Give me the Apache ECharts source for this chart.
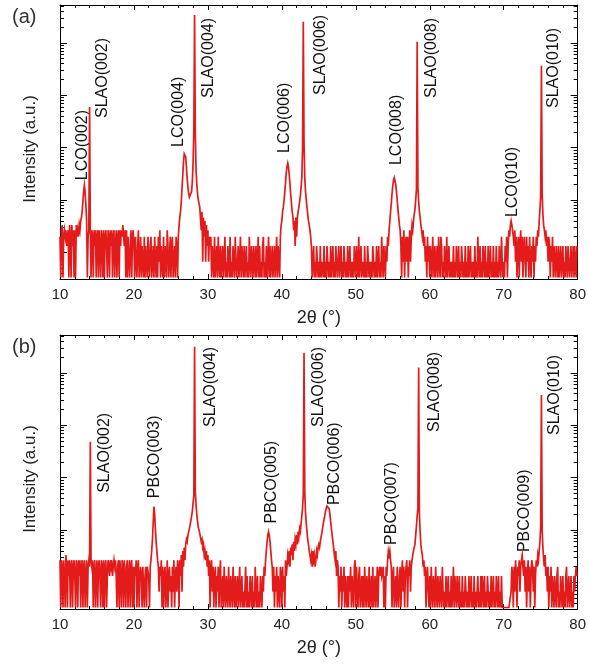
<!DOCTYPE html>
<html><head><meta charset="utf-8">
<script src="https://cdn.jsdelivr.net/npm/echarts@6/dist/echarts.min.js"></script>
<style>html,body{margin:0;padding:0;background:#fff}#c{width:589px;height:667px}</style>
</head><body><div id="c"></div>
<script>
// 2theta sampling grid (degrees)
const X_START = 10, X_STEP = 0.1;

// Panel (a): LCO film, counts per 0.1 deg step, one array per 10 deg
const a10 = [3,0,4,5,0,3,4,3,4,2, 3,4,0,5,3,0,5,2,4,0, 4,0,5,3,4,3,5,4,6,7, 9,14,22,29,21,12,6,0,3,4, 895,4,0,4,3,0,4,2,4,0,
             3,4,0,4,2,0,4,3,0,4, 0,3,4,2,0,4,3,0,4,2, 4,0,3,4,0,2,4,0,3,4, 0,4,2,4,3,5,3,2,4,0, 4,0,3,3,0,2,4,0,3,4];
const a20 = [2,0,3,1,0,2,4,0,1,3, 0,2,1,0,3,0,2,1,0,3, 1,0,2,3,0,1,2,0,3,1, 0,2,0,3,1,4,0,2,1,0, 3,0,2,1,0,4,2,0,1,3,
             0,2,3,0,1,2,0,3,2,0, 3,5,7,9,14,25,45,80,115,124, 100,62,38,26,20,17,16,18,22,35, 80,350,51000,260,55,30,20,15,13,11, 11,4,9,1,7,3,6,1,5,2];
const a30 = [4,1,3,2,3,0,2,1,0,3, 0,1,2,0,3,1,0,2,0,1, 2,0,1,3,0,1,0,2,1,0, 3,0,1,0,2,1,0,3,1,0, 1,2,0,1,3,0,2,1,0,2,
             0,1,2,0,1,0,3,1,0,2, 1,0,2,1,0,2,0,1,3,0, 2,0,1,0,2,3,0,1,0,2, 0,1,3,0,2,0,1,2,0,1, 2,0,1,3,0,2,1,0,3,5];
const a40 = [6,9,11,15,22,33,50,66,76,64, 46,30,19,13,9,7,4,6,2,7, 3,7,9,11,14,18,26,40,140,38000, 180,40,22,15,11,8,6,5,4,3, 2,0,1,2,0,1,0,2,1,0,
             1,0,2,0,1,1,0,2,0,1, 0,2,1,0,1,0,2,0,1,2, 0,1,0,2,1,0,1,2,0,1, 2,0,1,0,2,1,0,1,0,2, 0,1,2,0,1,0,1,0,2,1];
const a50 = [0,2,1,0,3,0,1,2,0,1, 1,0,2,0,1,0,2,1,0,1, 0,1,0,2,1,0,1,0,2,0, 1,2,0,1,0,3,1,0,2,1, 0,2,1,3,2,4,6,9,13,20,
             28,36,40,38,30,22,15,10,7,5, 4,2,0,3,1,4,0,2,3,1, 3,0,2,4,1,3,5,4,6,8, 10,15,24,15800,26,14,9,7,5,4, 3,4,2,3,1,2,0,3,1,2];
const a60 = [0,2,1,0,3,1,0,2,0,1, 2,0,3,1,0,3,2,0,1,0, 2,1,0,3,0,1,2,0,1,0, 1,0,2,0,1,0,2,1,0,2, 0,1,0,2,1,0,1,0,2,0,
             1,0,2,0,1,2,0,1,0,1, 0,2,0,1,0,3,1,0,2,0, 1,0,2,1,0,2,0,1,0,2, 0,1,2,0,1,0,2,0,1,0, 2,0,1,0,2,1,0,3,1,0];
const a70 = [1,0,2,1,3,0,2,4,3,5, 6,5,4,3,2,4,1,3,0,2, 3,0,2,4,1,3,0,2,3,1, 0,3,1,2,0,3,1,0,2,1, 3,0,2,1,3,2,4,3,6,10,
             18,5500,20,8,5,4,3,4,2,3, 1,3,2,0,2,1,3,0,2,1, 0,2,1,0,2,0,1,2,0,1, 2,0,1,0,2,1,0,2,1,0, 1,2,0,1,2,0,2,1,0,2];

// Panel (b): PBCO film
const b10 = [4,0,4,3,0,4,2,0,5,3, 0,4,2,4,0,3,4,0,3,4, 2,0,4,3,0,4,2,4,0,3, 4,0,3,4,0,2,4,0,3,4, 3,730,4,3,4,0,3,4,0,2,
             4,0,3,4,2,0,4,3,0,4, 0,3,4,0,2,4,3,2,4,3, 4,2,3,4,3,4,2,0,3,4, 0,4,2,0,4,3,0,4,2,0, 3,4,0,2,4,0,3,4,0,3];
const b20 = [0,3,2,4,0,3,4,0,2,3, 2,0,3,3,0,2,3,0,3,3, 2,0,3,4,6,10,20,42,30,16, 9,6,4,3,1,3,2,4,0,3, 0,2,3,0,1,4,0,2,3,1,
             2,0,3,1,4,0,2,3,1,4, 3,0,4,2,5,1,6,3,7,4, 8,10,9,12,14,16,19,23,28,35, 50,68,47500,80,45,30,22,17,15,13, 12,9,10,7,8,5,6,4,6,3];
const b30 = [5,2,4,0,3,4,1,3,0,2, 3,0,2,1,3,0,2,4,0,1, 2,0,3,1,0,2,1,0,3,1, 0,2,1,0,3,1,0,2,0,1, 2,0,1,3,0,1,2,0,1,0,
             1,3,0,2,0,1,0,2,1,0, 2,0,1,0,3,1,0,2,0,1, 0,2,1,0,2,1,3,2,4,6, 9,12,14,12,9,6,4,3,1,3, 0,2,1,3,0,2,1,0,3,2];
const b40 = [0,3,1,2,0,4,2,3,5,4, 6,3,7,5,8,4,9,6,10,8, 12,8,14,11,16,14,20,28,40,70, 36500,80,32,20,14,10,8,6,5,4, 5,3,6,4,5,3,4,6,5,7,
             8,7,9,11,13,16,20,24,28,34, 39,43,45,44,38,30,22,16,12,9, 7,5,4,6,2,4,3,0,2,1, 3,0,2,1,3,0,2,1,0,2, 0,2,1,3,0,2,1,0,3,4];
const b50 = [0,3,1,0,2,3,0,1,2,0, 2,0,3,1,0,2,1,0,3,0, 1,2,0,3,0,1,2,0,1,3, 0,2,3,2,3,2,2,3,0,2, 0,3,2,4,6,5,6,4,3,0,
             2,3,0,1,2,0,3,1,0,2, 3,0,2,4,1,3,0,2,3,4, 0,3,2,4,1,3,4,5,6,7, 8,12,18,28,40,19000,30,14,8,6, 5,3,4,2,3,0,2,3,1,0];
const b60 = [2,0,3,1,0,2,1,0,3,1, 0,2,1,0,2,1,0,3,1,0, 1,0,2,0,1,2,0,1,0,2, 0,1,3,0,2,1,0,2,1,0, 2,0,1,0,2,0,1,0,2,1,
             0,1,0,2,0,1,2,0,1,0, 2,0,1,0,1,2,0,1,0,2, 0,2,1,0,2,0,1,0,2,1, 0,1,0,2,0,1,2,0,1,0, 2,1,0,2,0,1,0,2,0,0];
const b70 = [0,0,0,0,0,0,0,0,0,0, 1,3,2,0,3,1,4,2,0,3, 2,4,1,3,4,5,3,2,4,1, 3,0,2,4,1,3,0,2,4,3, 1,3,0,2,4,3,5,4,6,9,
             18,5650,15,7,4,3,5,2,3,1, 3,0,2,1,3,0,2,1,0,2, 1,0,2,3,0,1,0,2,1,0, 2,0,1,0,2,3,0,1,2,0, 1,2,0,1,0,2,1,2,3,2];

// Peak annotations: text, 2theta of label centre, intensity at label start
const labelsA = ['LCO(002)','SLAO(002)','LCO(004)','SLAO(004)','LCO(006)','SLAO(006)','LCO(008)','SLAO(008)','LCO(010)','SLAO(010)'];
const labelXA = [13.0, 15.7, 26.1, 30.1, 40.4, 45.3, 55.5, 60.2, 71.2, 76.7];
const labelYA = [36, 553, 155, 1330, 119, 1520, 70, 1330, 7.1, 857];
const labelsB = ['SLAO(002)','PBCO(003)','SLAO(004)','PBCO(005)','SLAO(006)','PBCO(006)','PBCO(007)','SLAO(008)','PBCO(009)','SLAO(010)'];
const labelXB = [16.0, 22.8, 30.4, 38.6, 45.0, 47.1, 54.8, 60.7, 72.8, 76.9];
const labelYB = [77, 61, 1390, 20, 1390, 45, 7.8, 1120, 5.7, 980];

// Axis settings
const X_MIN = 10, X_MAX = 80, X_INTERVAL = 10;
const Y_MIN = 0.468, Y_MAX = 79200;     // log intensity range
const ZERO_PLOT = 0.5;                  // zero counts drawn at the floor
const Y_MAJOR = [1.5, 15, 150, 1500, 15000];
const Y_MINOR_MULT = [2,3,4,5,6,7,8,9];

const FONT = '"Liberation Sans", Arial, Helvetica, sans-serif';
const RED = '#e31b1b';

const minorTicks = [];
[0.15].concat(Y_MAJOR).forEach(m => Y_MINOR_MULT.forEach(k => {
  const v = +(m * k).toPrecision(6);
  if (v > Y_MIN && v < Y_MAX) minorTicks.push(v);
}));

function toSeries(segs) {
  const vals = [].concat(...segs);
  return vals.map((c, i) => [+(X_START + i * X_STEP).toFixed(2), c === 0 ? ZERO_PLOT : c]);
}
const dataA = toSeries([a10, a20, a30, a40, a50, a60, a70]);
const dataB = toSeries([b10, b20, b30, b40, b50, b60, b70]);

const black = {color: '#000', width: 1};
function xAxes(gi) {
  const base = {type: 'value', gridIndex: gi, min: X_MIN, max: X_MAX, interval: X_INTERVAL,
    splitLine: {show: false}, axisLine: {show: true, onZero: false, lineStyle: black},
    axisTick: {show: true, inside: true, length: 5, lineStyle: black},
    minorTick: {show: true, splitNumber: 5, length: 3, lineStyle: black}};
  return [
    Object.assign({}, base, {position: 'bottom',
      axisLabel: {show: true, fontSize: 15, color: '#222', margin: 8, fontFamily: FONT},
      name: '2θ (°)', nameLocation: 'middle', nameGap: 30,
      nameTextStyle: {fontSize: 18, color: '#222', fontFamily: FONT}}),
    Object.assign({}, base, {position: 'top', axisLabel: {show: false}})
  ];
}
function yAxes(gi) {
  const base = {type: 'log', logBase: 10, gridIndex: gi, min: Y_MIN, max: Y_MAX,
    splitLine: {show: false}, axisLabel: {show: false}, minorTick: {show: false}};
  const mk = (pos, major) => Object.assign({}, base, {position: pos,
    axisLine: {show: major, lineStyle: black},
    axisTick: {show: true, inside: true, length: major ? 7 : 4,
      customValues: major ? Y_MAJOR : minorTicks, lineStyle: black}});
  return [mk('left', true), mk('left', false), mk('right', true), mk('right', false)];
}

const chart = echarts.init(document.getElementById('c'), null, {renderer: 'canvas'});
const option = {
  animation: false,
  backgroundColor: '#fff',
  grid: [
    {left: 60, right: 6, top: 5, height: 274},
    {left: 60, right: 6, top: 335, height: 274}
  ],
  xAxis: xAxes(0).concat(xAxes(1)),
  yAxis: yAxes(0).concat(yAxes(1)),
  series: [
    {type: 'line', xAxisIndex: 0, yAxisIndex: 0, data: dataA, showSymbol: false, clip: true, z: 1,
     lineStyle: {color: RED, width: 1.7, join: 'miter'}, itemStyle: {color: RED}},
    {type: 'line', xAxisIndex: 2, yAxisIndex: 4, data: dataB, showSymbol: false, clip: true, z: 1,
     lineStyle: {color: RED, width: 1.7, join: 'miter'}, itemStyle: {color: RED}}
  ]
};
chart.setOption(option);

const gfx = [];
function addLabels(names, xs, ys, si) {
  names.forEach((t, i) => {
    const p = chart.convertToPixel({seriesIndex: si}, [xs[i], ys[i]]);
    gfx.push({type: 'text', x: p[0], y: p[1], rotation: Math.PI / 2,
      style: {text: t, font: '16px ' + FONT, fill: '#111',
        align: 'left', verticalAlign: 'middle', textAlign: 'left', textVerticalAlign: 'middle'}});
  });
}
addLabels(labelsA, labelXA, labelYA, 0);
addLabels(labelsB, labelXB, labelYB, 1);
const panelTags = ['(a)', '(b)'];
const gridTops = [5, 335];
panelTags.forEach((t, i) => {
  gfx.push({type: 'text', x: 12, y: gridTops[i] + 12,
    style: {text: t, font: '20px ' + FONT, fill: '#333', align: 'left', verticalAlign: 'middle',
      textAlign: 'left', textVerticalAlign: 'middle'}});
  gfx.push({type: 'text', x: 30, y: gridTops[i] + 144, rotation: Math.PI / 2,
    style: {text: 'Intensity (a.u.)', font: '17px ' + FONT, fill: '#222', align: 'center', verticalAlign: 'middle',
      textAlign: 'center', textVerticalAlign: 'middle'}});
});
chart.setOption({graphic: gfx});
</script>
</body></html>
